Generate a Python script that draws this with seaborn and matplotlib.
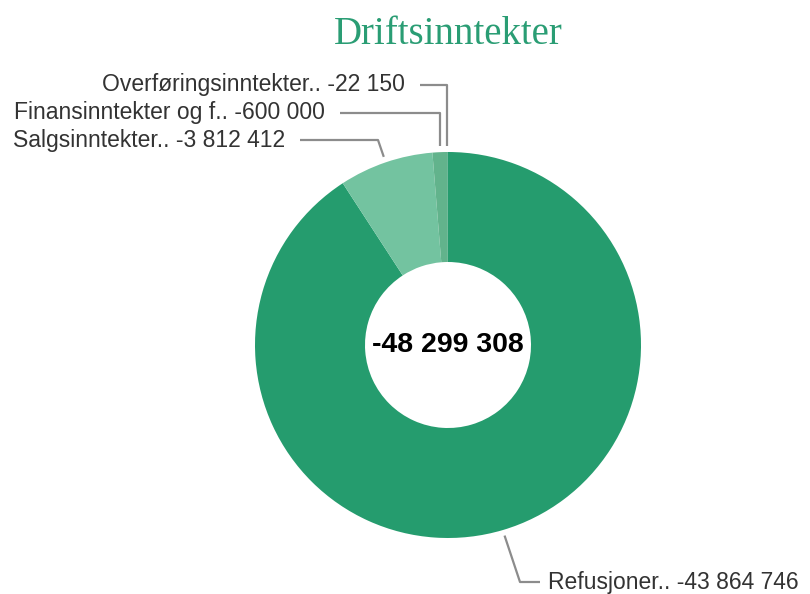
import matplotlib
matplotlib.use("Agg")
import matplotlib.pyplot as plt
import numpy as np
import seaborn as sns

sns.set_theme(style="white")
plt.rcParams['font.family'] = ['Liberation Sans', 'DejaVu Sans']

# data
categories = ["Refusjoner..", "Salgsinntekter..", "Finansinntekter og f..", "Overføringsinntekter.."]
values = [-43864746, -3812412, -600000, -22150]
colors = ["#259c6e", "#73c3a0", "#62b38c", "#2e9a70"]
title = "Driftsinntekter"


def fmt(v):
    return f"{v:,}".replace(",", " ")


fig = plt.figure(figsize=(8.1, 5.94), dpi=100)
ax = fig.add_axes([0, 0, 1, 1])

cx, cy, r = 448, 594 - 345, 193
wedges, _ = ax.pie(np.abs(values), colors=colors, startangle=90, counterclock=False,
                   center=(cx, cy), radius=r, frame=True,
                   wedgeprops=dict(width=r - 83, linewidth=0))
ax.set_xlim(0, 810)
ax.set_ylim(0, 594)
ax.set_aspect("auto")
ax.axis("off")

ax.text(cx, cy, fmt(sum(values)), ha="center", va="center",
        fontsize=20.5, fontweight="bold", color="black")
ax.text(cx, 594 - 34, title, ha="center", va="center", fontsize=28,
        family="Liberation Serif", color="#2a9d74")

# label layout in pixel coords (y from top)
layout = {
    "Refusjoner..": dict(ty=582, bend=520, end=540, side="right"),
    "Salgsinntekter..": dict(ty=140, bend=378, end=300, side="left"),
    "Finansinntekter og f..": dict(ty=113, bend=440, end=340, side="left"),
    "Overføringsinntekter..": dict(ty=85, bend=447, end=420, side="left"),
}
line_col = "#8c8c8c"
for w, cat, v in zip(wedges, categories, values):
    ang = np.deg2rad((w.theta1 + w.theta2) / 2)
    lay = layout[cat]
    ty = 594 - lay["ty"]
    x0 = cx + r * 1.03 * np.cos(ang)
    y0 = cy + r * 1.03 * np.sin(ang)
    if cat in ("Finansinntekter og f..", "Overføringsinntekter.."):
        x0 = lay["bend"]
        y0 = cy + r * 1.03
    ax.plot([x0, lay["bend"], lay["end"]], [y0, ty, ty], color=line_col, lw=1.6,
            solid_capstyle="butt", clip_on=False)
    label = f"{cat} {fmt(v)}"
    if lay["side"] == "right":
        ax.text(lay["end"] + 8, ty, label, ha="left", va="center", fontsize=16.5, color="#333333")
    else:
        ax.text(lay["end"] - 15, ty, label, ha="right", va="center", fontsize=16.5, color="#333333")

fig.savefig("out.png", dpi=100, facecolor="white")
